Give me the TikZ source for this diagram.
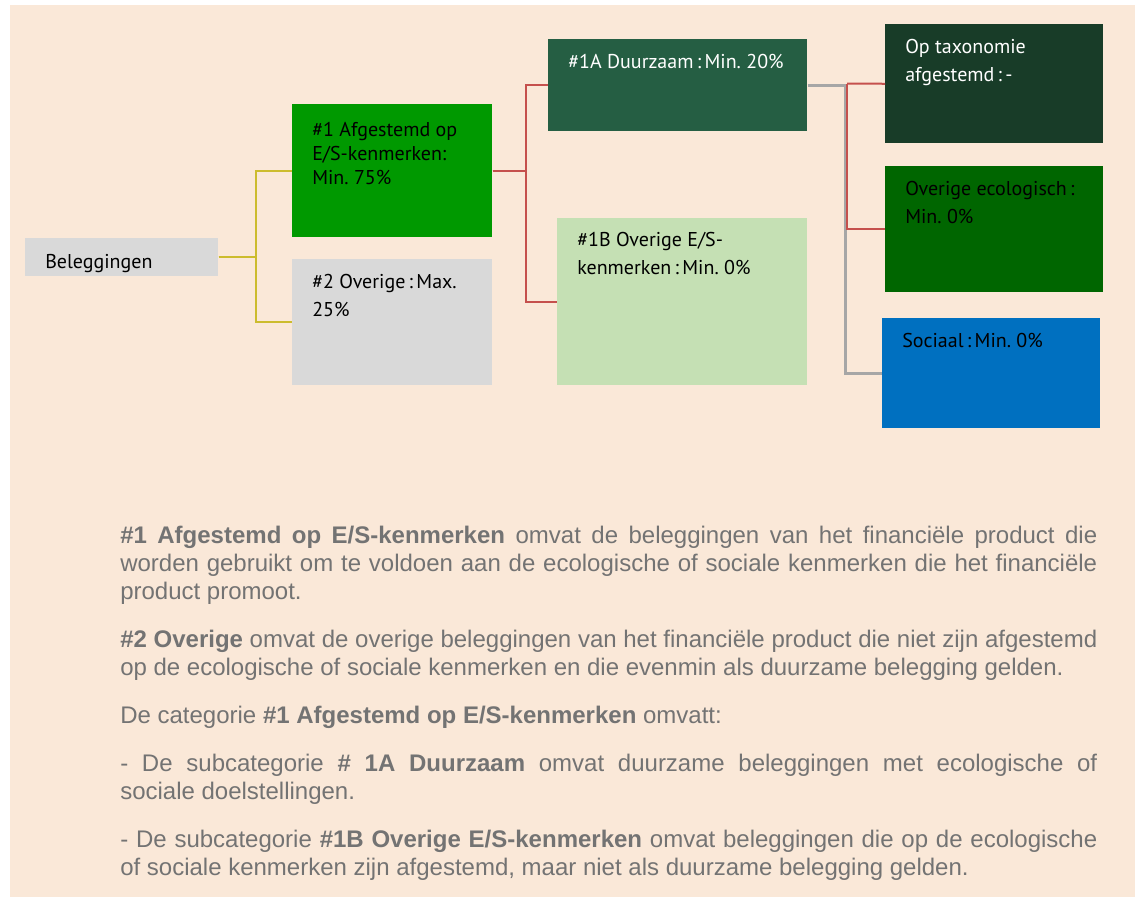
\documentclass[tikz,border=0pt]{standalone}
\usepackage{fontspec}
\setmainfont{Liberation Sans}
\newfontfamily\boxfont{PT Sans}
\newdimen\px \px=0.75pt
\definecolor{peach}{HTML}{FAE8D8}
\definecolor{boxgray}{HTML}{D9D9D9}
\definecolor{afggreen}{HTML}{009900}
\definecolor{duurgreen}{HTML}{255E43}
\definecolor{palegreen}{HTML}{C5E0B4}
\definecolor{taxgreen}{HTML}{183C28}
\definecolor{ecogreen}{HTML}{006600}
\definecolor{socblue}{HTML}{0070C0}
\definecolor{yline}{HTML}{CCBC2E}
\definecolor{rline}{HTML}{C5504D}
\definecolor{gline}{HTML}{A6A6A6}
\definecolor{notegray}{HTML}{737373}
% box text: width, height, first baseline, text
\newcommand{\cellbox}[4]{\parbox[c][#2\px][t]{#1\px}{\raggedright\rule{0pt}{#3\px}#4}}

\begin{document}
\begin{tikzpicture}[x=0.75pt,y=-0.75pt,
  cell/.style={rectangle,anchor=north west,inner xsep=20\px,inner ysep=0pt,
    font={\boxfont\fontsize{15pt}{21pt}\selectfont}},
  link/.style={line width=1.5pt},
  notes/.style={anchor=north west,inner sep=0pt,text width=977\px,align=justify,
    text=notegray,font={\fontsize{18pt}{21pt}\selectfont\hyphenpenalty=10000}}]
  \useasboundingbox (0,0) rectangle (1135,897);
  \fill[white] (0,0) rectangle (1135,897);
  \fill[peach] (10,5) rectangle (1135,897);

  \begin{scope}
    \clip (25,238) rectangle (218,276);
    \node[cell,fill=boxgray] (bel) at (25,238) {\cellbox{153}{38}{30}{Beleggingen}};
  \end{scope}
  \node[cell,fill=afggreen] (afg) at (292,104)
    {\cellbox{160}{133}{32}{\baselineskip=18.2pt \#1 Afgestemd op\\E/S-kenmerken:\\Min.\ 75\%}};
  \node[cell,fill=boxgray] (ovr) at (292,259) {\cellbox{160}{126}{29}{\#2 Overige\,:\,Max.\\25\%}};
  \node[cell,fill=duurgreen,text=white] (duur) at (548,39) {\cellbox{219}{92}{29}{\#1A Duurzaam\,:\,Min.\ 20\%}};
  \node[cell,fill=palegreen] (oves) at (557,218)
    {\cellbox{210}{167}{28}{\baselineskip=21.5pt \#1B Overige E/S-\\kenmerken\,:\,Min.\ 0\%}};
  \node[cell,fill=taxgreen,text=white] (tax) at (885,24) {\cellbox{178}{119}{29}{Op taxonomie\\afgestemd\,:\,-}};
  \node[cell,fill=ecogreen] (eco) at (885,166) {\cellbox{178}{126}{29}{Overige ecologisch\,:\\Min.\ 0\%}};
  \node[cell,fill=socblue] (soc) at (882,318) {\cellbox{178}{110}{29}{Sociaal\,:\,Min.\ 0\%}};

  \draw[link,yline] (bel.east) -- ++(37,0) |- (afg.west);
  \draw[link,yline] (bel.east) -- ++(37,0) |- (ovr.west);
  \draw[link,rline] (afg.east) -- ++(33,0) |- (duur.west);
  \draw[link,rline] (afg.east) -- ++(33,0) |- (oves.west);
  \draw[link,gline,line width=1.9pt] (duur.east) -- ++(38,0) |- (soc.west);
  \coordinate (split) at (847,83.5);
  \draw[link,rline] (split) -- (tax.west);
  \draw[link,rline] (split) |- (eco.west);

  \node[notes] (txt) at (120,523) {\rule{0pt}{20\px}\textbf{\#1 Afgestemd op E/S-kenmerken} omvat de beleggingen van het financiële product die\linebreak
    worden gebruikt om te voldoen aan de ecologische of sociale kenmerken die het financiële\linebreak
    product promoot.\par\vspace{15pt}
    \textbf{\#2 Overige} omvat de overige beleggingen van het financiële product die niet zijn afgestemd\linebreak
    op de ecologische of sociale kenmerken en die evenmin als duurzame belegging gelden.\par\vspace{15pt}
    De categorie \textbf{\#1 Afgestemd op E/S-kenmerken} omvatt:\par\vspace{15pt}
    - De subcategorie \textbf{\# 1A Duurzaam} omvat duurzame beleggingen met ecologische of\linebreak
    sociale doelstellingen.\par\vspace{15pt}
    - De subcategorie \textbf{\#1B Overige E/S-kenmerken} omvat beleggingen die op de ecologische\linebreak
    of sociale kenmerken zijn afgestemd, maar niet als duurzame belegging gelden.};
\end{tikzpicture}
\end{document}
